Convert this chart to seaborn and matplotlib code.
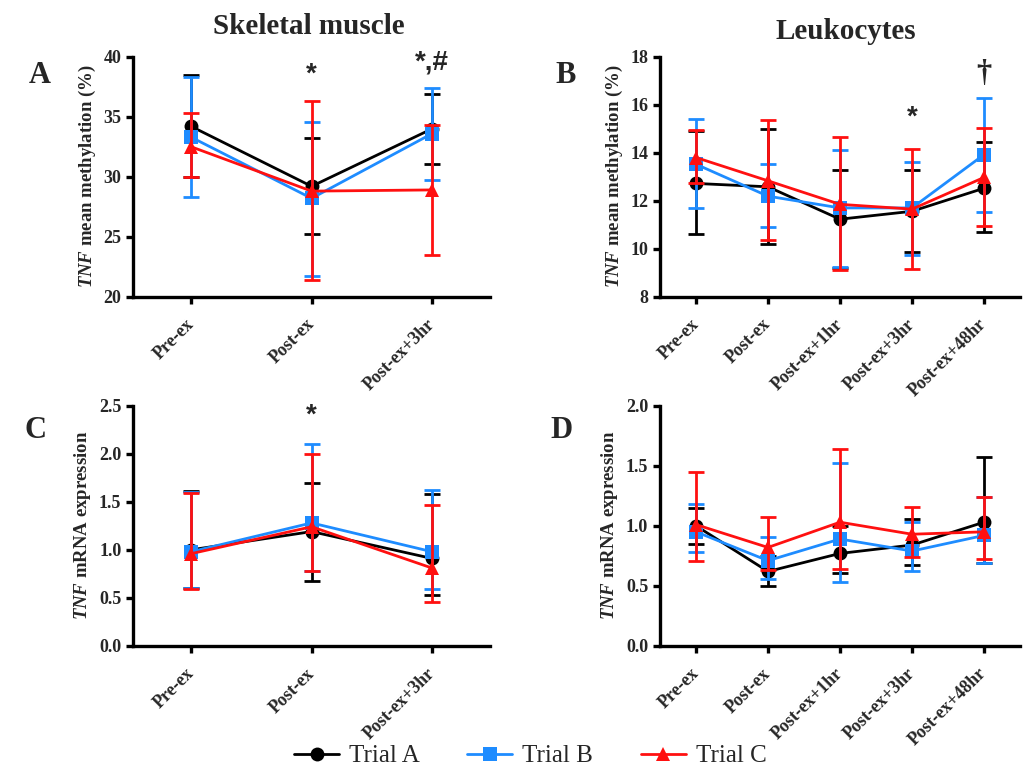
import matplotlib
matplotlib.use('Agg')
import matplotlib.pyplot as plt
import seaborn as sns
import numpy as np

sns.set_theme(style='ticks')
plt.rcParams['font.family'] = ['Liberation Serif', 'DejaVu Serif']
plt.rcParams['mathtext.fontset'] = 'custom'
plt.rcParams['mathtext.it'] = 'Liberation Serif:italic:bold'
plt.rcParams['mathtext.rm'] = 'Liberation Serif:bold'

# x categories
times_short = ['Pre-ex', 'Post-ex', 'Post-ex+3hr']
times_long = ['Pre-ex', 'Post-ex', 'Post-ex+1hr', 'Post-ex+3hr', 'Post-ex+48hr']
trials = ['Trial A', 'Trial B', 'Trial C']
colors = ['#000000', '#1E8CFF', '#FF1010']
markers = ['o', 's', '^']

# Panel A: skeletal muscle methylation (%), one row per trial
A_mean = [[34.2, 29.2, 34.0], [33.3, 28.2, 33.6], [32.5, 28.8, 28.9]]
A_low = [[30.0, 25.2, 31.1], [28.3, 21.7, 29.7], [30.0, 21.4, 23.5]]
A_high = [[38.5, 33.2, 36.9], [38.3, 34.6, 37.4], [35.3, 36.3, 34.3]]

# Panel B: leukocyte methylation (%)
B_mean = [[12.72, 12.58, 11.23, 11.56, 12.52],
          [13.52, 12.19, 11.7, 11.7, 13.92],
          [13.8, 12.83, 11.85, 11.65, 12.97]]
B_low = [[10.6, 10.2, 9.2, 9.85, 10.7],
         [11.7, 10.9, 9.25, 9.75, 11.55],
         [12.75, 10.35, 9.1, 9.15, 10.95]]
B_high = [[14.9, 15.0, 13.3, 13.3, 14.45],
          [15.4, 13.55, 14.1, 13.6, 16.3],
          [14.95, 15.35, 14.65, 14.15, 15.05]]

# Panel C: skeletal muscle mRNA expression
C_mean = [[1.0, 1.19, 0.91], [0.98, 1.28, 0.98], [0.96, 1.24, 0.81]]
C_low = [[0.6, 0.68, 0.53], [0.6, 0.78, 0.59], [0.59, 0.78, 0.46]]
C_high = [[1.61, 1.70, 1.58], [1.60, 2.10, 1.62], [1.59, 2.0, 1.47]]

# Panel D: leukocyte mRNA expression
D_mean = [[1.0, 0.62, 0.77, 0.84, 1.03],
          [0.95, 0.71, 0.89, 0.79, 0.92],
          [1.01, 0.82, 1.03, 0.93, 0.95]]
D_low = [[0.85, 0.50, 0.605, 0.67, 0.69],
         [0.78, 0.56, 0.53, 0.62, 0.69],
         [0.71, 0.63, 0.64, 0.74, 0.72]]
D_high = [[1.15, 0.75, 1.0, 1.06, 1.57],
          [1.18, 0.91, 1.52, 1.03, 1.24],
          [1.45, 1.07, 1.64, 1.16, 1.24]]

label_methyl = r'$\mathit{TNF}$ mean methylation (%)'
label_mrna = r'$\mathit{TNF}$ mRNA expression'


def draw_panel(ax, cats, means, lows, highs, ylim, yticks, fmt, ylabel):
    for i, trial in enumerate(trials):
        m = np.array(means[i])
        err = [m - np.array(lows[i]), np.array(highs[i]) - m]
        ax.errorbar(cats, m, yerr=err, fmt='none', ecolor=colors[i],
                    elinewidth=2, capsize=6, capthick=2, zorder=2 + i)
        sns.lineplot(x=cats, y=m, color=colors[i], marker=markers[i],
                     markersize=10, markeredgewidth=0, linewidth=2,
                     sort=False, label=trial, ax=ax, zorder=2 + i)
    pad = 0.48 if len(cats) == 3 else 0.5
    ax.set_xlim(-pad, len(cats) - 1 + pad)
    ax.set_ylim(*ylim)
    ax.set_yticks(yticks)
    ax.set_yticklabels([fmt.format(t) for t in yticks], fontweight='bold', fontsize=13)
    ax.set_xticks(range(len(cats)))
    ax.set_xticklabels(cats, rotation=45, ha='right', va='center',
                       rotation_mode='anchor', fontweight='bold', fontsize=13)
    ax.tick_params(axis='x', pad=13)
    ax.set_ylabel(ylabel, fontweight='bold', fontsize=13.5)
    for s in ['top', 'right']:
        ax.spines[s].set_visible(False)
    for s in ['left', 'bottom']:
        ax.spines[s].set_linewidth(2.4)
        ax.spines[s].set_color('black')
    ax.tick_params(width=2.4, length=5, color='black', direction='out')
    ax.get_legend().remove()


fig = plt.figure(figsize=(10.24, 7.78), dpi=100)
axA = fig.add_axes([0.130, 0.6186, 0.3486, 0.3085])
axB = fig.add_axes([0.6445, 0.6186, 0.3516, 0.3085])
axC = fig.add_axes([0.130, 0.1697, 0.3486, 0.3089])
axD = fig.add_axes([0.6445, 0.1697, 0.3516, 0.3089])

draw_panel(axA, times_short, A_mean, A_low, A_high, (20, 40), [20, 25, 30, 35, 40], '{:.0f}', label_methyl)
draw_panel(axB, times_long, B_mean, B_low, B_high, (8, 18), [8, 10, 12, 14, 16, 18], '{:.0f}', label_methyl)
draw_panel(axC, times_short, C_mean, C_low, C_high, (0, 2.5), [0, 0.5, 1.0, 1.5, 2.0, 2.5], '{:.1f}', label_mrna)
draw_panel(axD, times_long, D_mean, D_low, D_high, (0, 2.0), [0, 0.5, 1.0, 1.5, 2.0], '{:.1f}', label_mrna)

# significance marks
star = dict(ha='center', va='center', fontweight='bold', fontsize=20, family=['Liberation Sans', 'DejaVu Sans'])
axA.text(1, 38.5, '*', **star)
axA.text(2, 39.5, '*,#', **star)
axB.text(3, 15.45, '*', **star)
axB.text(4, 17.3, '\u2020', ha='center', va='center', fontweight='bold', fontsize=22)
axC.text(1, 2.4, '*', **star)

# panel letters and column titles
fig.text(0.039, 0.903, 'A', fontsize=22, fontweight='bold', ha='center', va='center')
fig.text(0.552, 0.903, 'B', fontsize=22, fontweight='bold', ha='center', va='center')
fig.text(0.035, 0.447, 'C', fontsize=22, fontweight='bold', ha='center', va='center')
fig.text(0.548, 0.447, 'D', fontsize=22, fontweight='bold', ha='center', va='center')
fig.text(0.302, 0.966, 'Skeletal muscle', fontsize=21, fontweight='bold', ha='center', va='center')
fig.text(0.826, 0.960, 'Leukocytes', fontsize=21, fontweight='bold', ha='center', va='center')

handles, labels = axA.get_legend_handles_labels()
fig.legend(handles, labels, loc='center', ncol=3, frameon=False,
           bbox_to_anchor=(0.518, 0.028), fontsize=18, handlelength=1.8,
           columnspacing=1.9, handletextpad=0.4)

fig.savefig('out.png', dpi=100)
